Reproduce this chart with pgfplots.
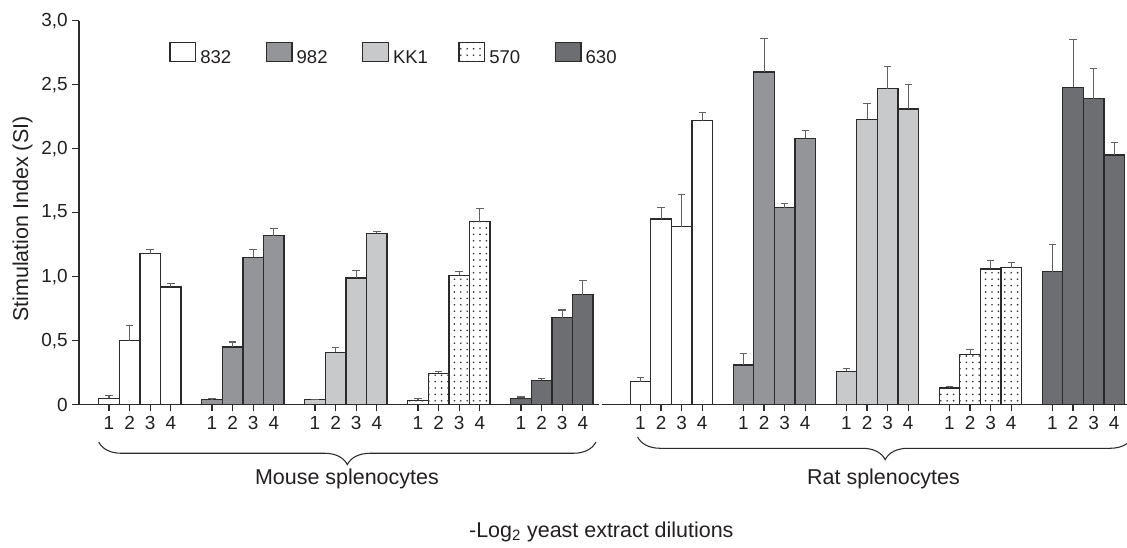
\documentclass[border=0pt]{standalone}
\usepackage{fontspec}
\setmainfont{Liberation Sans}
\usepackage{pgfplots}
\pgfplotsset{compat=1.18}
\usetikzlibrary{patterns.meta,decorations.pathreplacing}
\tikzdeclarepattern{
  name=sdots,
  type=uncolored,
  bounding box={(-2.4pt,-2.4pt) and (2.4pt,2.4pt)},
  tile size={(4.8pt,4.8pt)},
  code={\fill (0pt,0pt) circle (0.7pt);}
}
\definecolor{cB}{HTML}{939598}
\definecolor{cC}{HTML}{C8C9CB}
\definecolor{cE}{HTML}{6D6E71}
\definecolor{edge}{HTML}{2B2B2B}
\definecolor{txt}{HTML}{231F20}
\begin{document}
\begin{tikzpicture}
\useasboundingbox (0,0) rectangle (845.25pt,411pt);
\begin{axis}[
  at={(59.25pt,107.475pt)}, anchor=south west,
  scale only axis, width=786pt, height=288pt,
  xmin=-1.456, xmax=49.42, ymin=0, ymax=3,
  clip=false,
  axis lines*=left,
  x axis line style={draw=none},
  y axis line style={line width=0.9pt, draw=edge},
  tick align=outside, major tick length=5pt,
  tick style={line width=0.9pt, draw=edge},
  ytick={0,0.5,1,1.5,2,2.5,3},
  yticklabels={0,{0,5},{1,0},{1,5},{2,0},{2,5},{3,0}},
  xtick={0,1,2,3,5,6,7,8,10,11,12,13,15,16,17,18,20,21,22,23,25.8,26.8,27.8,28.8,30.8,31.8,32.8,33.8,35.8,36.8,37.8,38.8,40.8,41.8,42.8,43.8,45.8,46.8,47.8,48.8},
  xticklabels={1,2,3,4,1,2,3,4,1,2,3,4,1,2,3,4,1,2,3,4,1,2,3,4,1,2,3,4,1,2,3,4,1,2,3,4,1,2,3,4},
  ticklabel style={font=\fontsize{14.2}{16}\selectfont, text=txt},
  /pgf/number format/assume math mode=true,
  legend style={at={(0.0862,0.9453)}, anchor=north west, draw=none, fill=none,
    inner sep=0pt, outer sep=0pt, legend columns=5,
    font=\fontsize{13.9}{16}\selectfont, text=txt,
    nodes={inner sep=0pt},
    /tikz/every odd column/.append style={column sep=3pt}},
  legend cell align=left,
  mybar/.style={ybar, bar width=1, bar shift=0pt, draw=edge, line width=0.95pt,
    error bars/.cd, y dir=plus, y explicit,
    error bar style={line width=0.8pt, draw=black!62},
    error mark options={rotate=90, mark size=2.8pt, line width=0.8pt, draw=black!62},
    /pgfplots/.cd,
    legend image code/.code={\draw[##1] (0pt,-2.1pt) rectangle (19.3pt,12.1pt);}},
]
% 832
\addplot[mybar, fill=white] coordinates {
 (0,0.05) +- (0,0.02) (1,0.50) +- (0,0.12) (2,1.18) +- (0,0.03) (3,0.92) +- (0,0.03)
 (25.8,0.18) +- (0,0.03) (26.8,1.45) +- (0,0.09) (27.8,1.39) +- (0,0.25) (28.8,2.22) +- (0,0.06)};
\addlegendentry{\makebox[49pt][l]{832}}
% 982
\addplot[mybar, fill=cB] coordinates {
 (5,0.04) +- (0,0.01) (6,0.45) +- (0,0.04) (7,1.15) +- (0,0.06) (8,1.32) +- (0,0.06)
 (30.8,0.31) +- (0,0.09) (31.8,2.60) +- (0,0.26) (32.8,1.54) +- (0,0.03) (33.8,2.08) +- (0,0.06)};
\addlegendentry{\makebox[49pt][l]{982}}
% KK1
\addplot[mybar, fill=cC] coordinates {
 (10,0.04) +- (0,0.004) (11,0.41) +- (0,0.04) (12,0.99) +- (0,0.06) (13,1.34) +- (0,0.01)
 (35.8,0.26) +- (0,0.02) (36.8,2.23) +- (0,0.12) (37.8,2.47) +- (0,0.17) (38.8,2.31) +- (0,0.19)};
\addlegendentry{\makebox[49pt][l]{KK1}}
% 570
\addplot[mybar, fill=white, postaction={pattern={sdots}, pattern color=black!78}] coordinates {
 (15,0.035) +- (0,0.01) (16,0.245) +- (0,0.015) (17,1.01) +- (0,0.03) (18,1.43) +- (0,0.10)
 (40.8,0.13) +- (0,0.015) (41.8,0.39) +- (0,0.04) (42.8,1.06) +- (0,0.07) (43.8,1.07) +- (0,0.04)};
\addlegendentry{\makebox[49pt][l]{570}}
% 630
\addplot[mybar, fill=cE] coordinates {
 (20,0.05) +- (0,0.01) (21,0.19) +- (0,0.015) (22,0.68) +- (0,0.06) (23,0.86) +- (0,0.11)
 (45.8,1.04) +- (0,0.21) (46.8,2.48) +- (0,0.37) (47.8,2.39) +- (0,0.24) (48.8,1.95) +- (0,0.10)};
\addlegendentry{\makebox[49pt][l]{630}}

\draw[line width=0.9pt, edge] (axis cs:-1.456,0) -- (axis cs:23.80,0);
\draw[line width=0.9pt, edge] (axis cs:23.91,0) -- (axis cs:49.42,0);

\draw[decorate, decoration={brace, mirror, amplitude=17pt}, line width=0.8pt, edge]
  (axis cs:-0.50,-0.291) -- (axis cs:23.64,-0.291);
\draw[decorate, decoration={brace, mirror, amplitude=17pt}, line width=0.8pt, edge]
  (axis cs:25.66,-0.252) -- (axis cs:49.70,-0.252);

\node[anchor=base, font=\fontsize{16.1}{19}\selectfont, text=txt] at (axis cs:11.55,-0.627) {Mouse splenocytes};
\node[anchor=base, font=\fontsize{16.1}{19}\selectfont, text=txt] at (axis cs:37.6,-0.627) {Rat splenocytes};
\node[anchor=base, font=\fontsize{16.1}{19}\selectfont, text=txt] at (axis cs:23.9,-1.034) {-Log\textsubscript{2} yeast extract dilutions};
\node[anchor=base, rotate=90, font=\fontsize{16.1}{19}\selectfont, text=txt] at (axis cs:-3.93,1.45) {Stimulation Index (SI)};
\end{axis}
\end{tikzpicture}
\end{document}
